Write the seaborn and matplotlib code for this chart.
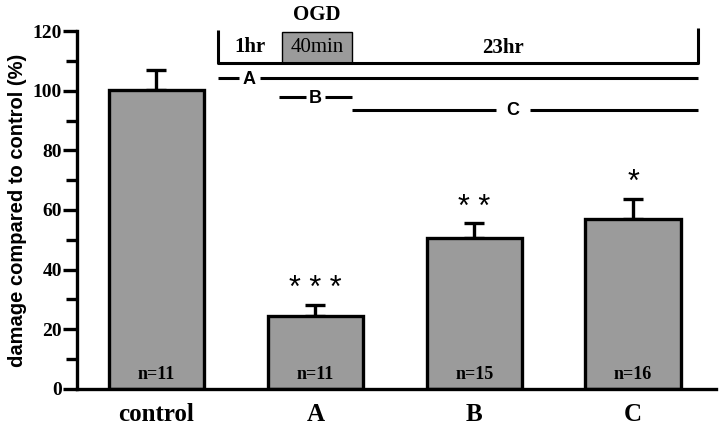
import numpy as np
import pandas as pd
import seaborn as sns
from matplotlib import pyplot as plt
from matplotlib.patches import Rectangle

# data
groups = ['control', 'A', 'B', 'C']
damage = [100.2, 24.3, 50.6, 57.1]
sem = [6.8, 3.9, 5.0, 6.6]
n_labels = ['n=11', 'n=11', 'n=15', 'n=16']
stars = ['', '***', '**', '*']

sns.set_style('ticks')
plt.rcParams['font.family'] = ['Liberation Serif', 'DejaVu Serif']
plt.rcParams.update({'text.color': 'black', 'axes.labelcolor': 'black',
                     'xtick.color': 'black', 'ytick.color': 'black',
                     'axes.edgecolor': 'black'})
sans = ['Liberation Sans', 'DejaVu Sans']
bar_color = '#9b9b9b'
lw = 2.4

df = pd.DataFrame({'group': groups, 'damage': damage})

fig = plt.figure(figsize=(7.2, 4.37), dpi=100)
ax = fig.add_axes([0.107, 0.110, 0.887, 0.819])

sns.barplot(data=df, x='group', y='damage', color=bar_color, width=0.6,
            edgecolor='black', linewidth=lw, saturation=1, ax=ax, zorder=2)
ax.errorbar(np.arange(len(groups)), damage, yerr=[np.zeros(len(groups)), sem],
            fmt='none', ecolor='black', elinewidth=lw, capsize=7, capthick=lw, zorder=1)

for i, (v, e) in enumerate(zip(damage, sem)):
    ax.text(i, 5.0, n_labels[i], ha='center', va='center', fontsize=13,
            fontweight='bold', zorder=3)
    if stars[i]:
        ax.text(i, v + e + 0.2, ' '.join(stars[i]), ha='center', va='bottom',
                fontsize=22, family=sans)

ax.set_xlim(-0.5, 3.52)
ax.set_ylim(0, 120)
ax.set_yticks(np.arange(0, 121, 20))
ax.set_yticks(np.arange(10, 120, 20), minor=True)
ax.tick_params(axis='y', which='major', direction='out', width=lw, length=10,
               labelsize=14, pad=1)
ax.tick_params(axis='y', which='minor', direction='out', width=lw, length=8)
ax.tick_params(axis='x', length=0, labelsize=18, pad=10)
for lab in ax.get_yticklabels() + ax.get_xticklabels():
    lab.set_fontweight('bold')
ax.set_xlabel('')
ax.set_ylabel('damage compared to control (%)', fontsize=14.5, fontweight='bold',
              family=sans, labelpad=4)
for s in ['top', 'right']:
    ax.spines[s].set_visible(False)
for s in ['left', 'bottom']:
    ax.spines[s].set_linewidth(lw)

# timeline inset (data coords, above bars)
x0, x1, xb0, xb1 = 0.39, 3.41, 0.79, 1.23
yb, yt = 109.3, 120.3
k = dict(color='black', lw=2.2, clip_on=False, solid_capstyle='butt')
ax.add_patch(Rectangle((xb0, yb), xb1 - xb0, 10.5, facecolor=bar_color,
                       edgecolor='black', lw=1, clip_on=False))
ax.plot([x0, x0, x1, x1], [yt, yb, yb, yt + 0.7], **k)
ax.text(0.59, 114.5, '1hr', ha='center', va='center', fontsize=15, fontweight='bold')
ax.text((xb0 + xb1) / 2, 114.5, '40min', ha='center', va='center', fontsize=15)
ax.text(2.18, 114.2, '23hr', ha='center', va='center', fontsize=15, fontweight='bold')
ax.text((xb0 + xb1) / 2, 125.5, 'OGD', ha='center', va='center', fontsize=15,
        fontweight='bold')

ax.plot([x0, 0.52], [104.3, 104.3], **k)
ax.plot([0.65, x1], [104.3, 104.3], **k)
ax.text(0.585, 103.6, 'A', ha='center', va='center', fontsize=13,
        fontweight='bold', family=sans)
ax.plot([0.77, 0.94], [97.9, 97.9], **k)
ax.plot([1.06, 1.23], [97.9, 97.9], **k)
ax.text(1.0, 97.4, 'B', ha='center', va='center', fontsize=13,
        fontweight='bold', family=sans)
ax.plot([1.23, 2.14], [93.6, 93.6], **k)
ax.plot([2.35, 3.41], [93.6, 93.6], **k)
ax.text(2.245, 93.3, 'C', ha='center', va='center', fontsize=13,
        fontweight='bold', family=sans)

fig.savefig('out.png', dpi=100)
